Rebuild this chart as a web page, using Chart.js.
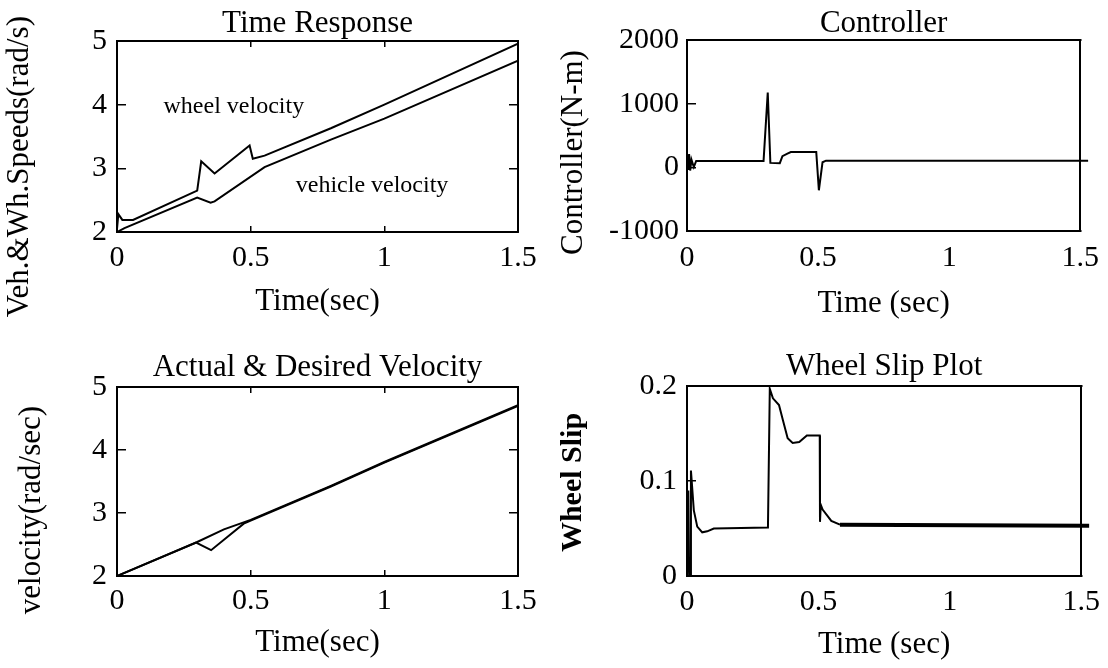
<!DOCTYPE html>
<html><head><meta charset="utf-8">
<script src="https://cdn.jsdelivr.net/npm/chart.js@4.4.1/dist/chart.umd.min.js"></script>
<style>
html,body{margin:0;padding:0;background:#fff;}
#wrap{position:relative;width:1108px;height:668px;background:#fff;}
canvas{position:absolute;}
</style></head><body>
<div id="wrap">
<canvas id="c1" width="554" height="334" style="left:0;top:0"></canvas>
<canvas id="c2" width="554" height="334" style="left:554px;top:0"></canvas>
<canvas id="c3" width="554" height="334" style="left:0;top:334px"></canvas>
<canvas id="c4" width="554" height="334" style="left:554px;top:334px"></canvas>
</div>
<script>
// ---- Time Response (wheel / vehicle speeds, rad/s) ----
const wheelT = [0, 0.005, 0.02, 0.06, 0.30, 0.315, 0.365, 0.496, 0.508, 0.552, 0.80, 1.00, 1.50];
const wheelV = [2.05, 2.28, 2.19, 2.19, 2.65, 3.11, 2.92, 3.36, 3.15, 3.20, 3.63, 4.00, 4.96];
const vehT   = [0, 0.028, 0.30, 0.35, 0.365, 0.552, 0.80, 1.00, 1.50];
const vehV   = [2.00, 2.06, 2.54, 2.46, 2.48, 3.02, 3.45, 3.78, 4.69];

// ---- Controller (N-m) ----
const ctrlT = [0, 0.004, 0.008, 0.012, 0.017, 0.026, 0.035, 0.292, 0.308, 0.318, 0.354, 0.364, 0.383, 0.396, 0.493, 0.503, 0.517, 0.53, 1.53];
const ctrlU = [200, -40, 210, -50, 120, 5, 100, 100, 1175, 70, 65, 175, 215, 240, 240, -360, 80, 105, 105];

// ---- Actual & Desired Velocity (rad/sec) ----
const desT = [0, 0.3, 0.4, 0.5, 0.8, 1.0, 1.5];
const desV = [2.00, 2.54, 2.74, 2.89, 3.43, 3.81, 4.71];
const actT = [0, 0.296, 0.352, 0.474, 0.5, 0.8, 1.0, 1.5];
const actV = [2.00, 2.53, 2.41, 2.83, 2.88, 3.42, 3.80, 4.70];

// ---- Wheel Slip ----
const slipT = [0, 0.005, 0.008, 0.012, 0.015, 0.026, 0.039, 0.058, 0.077, 0.102, 0.308, 0.315, 0.327, 0.35, 0.365, 0.383, 0.402, 0.427, 0.456, 0.505, 0.506, 0.509, 0.516, 0.549, 0.582, 1.53];
const slipS = [0, 0.09, 0, 0, 0.111, 0.069, 0.052, 0.046, 0.047, 0.050, 0.051, 0.197, 0.187, 0.180, 0.164, 0.145, 0.140, 0.141, 0.148, 0.148, 0.057, 0.075, 0.070, 0.058, 0.054, 0.053];

// ---- tick / axis settings ----
const timeTicks = {min: 0, max: 1.5, step: 0.5};
const velTicks = {min: 2, max: 5, step: 1};
const ctrlTicks = {min: -1000, max: 2000, step: 1000};
const slipTicks = {min: 0, max: 0.2, step: 0.1};

const SERIF = "'Liberation Serif', 'Times New Roman', Times, serif";
const pts = (xs, ys) => xs.map((x, i) => ({x: x, y: ys[i]}));

const sideTitle = {
  id: 'sideTitle',
  afterDraw(chart, args, opts) {
    if (!opts || !opts.text) return;
    const ctx = chart.ctx;
    ctx.save();
    ctx.translate(opts.x, opts.y);
    ctx.rotate(-Math.PI / 2);
    ctx.font = opts.font;
    ctx.fillStyle = '#000';
    ctx.textAlign = 'center';
    ctx.textBaseline = 'middle';
    ctx.fillText(opts.text, 0, 0);
    ctx.restore();
  }
};
const notes = {
  id: 'notes',
  afterDatasetsDraw(chart, args, opts) {
    if (!opts || !opts.items) return;
    const ctx = chart.ctx;
    ctx.save();
    ctx.font = opts.font;
    ctx.fillStyle = '#000';
    ctx.textAlign = 'center';
    ctx.textBaseline = 'middle';
    opts.items.forEach(it => {
      ctx.fillText(it.text, chart.scales.x.getPixelForValue(it.x), chart.scales.y.getPixelForValue(it.y));
    });
    ctx.restore();
  }
};

function axes(o) {
  const tickFont = {family: SERIF, size: 30};
  const titleFont = {family: SERIF, size: 31};
  const frame = {display: true, color: '#000', width: 2};
  const gr = len => ({drawOnChartArea: false, drawTicks: len !== 0, tickLength: -len, color: '#000', lineWidth: 1.5});
  return {
    x: {type: 'linear', position: 'bottom', min: timeTicks.min, max: timeTicks.max,
        ticks: {stepSize: timeTicks.step, font: tickFont, color: '#000', padding: o.xPad, maxRotation: 0, autoSkip: false, callback: v => String(v)},
        grid: gr(o.xTick), border: frame,
        title: {display: true, text: o.xTitle, font: titleFont, color: '#000', padding: {top: 0, bottom: o.xTitlePb}},
        afterFit(s) { s.height = o.xH; }},
    top: {type: 'linear', position: 'top', min: timeTicks.min, max: timeTicks.max,
        ticks: {stepSize: timeTicks.step, display: false},
        grid: gr(o.xTick), border: frame,
        title: {display: true, text: o.title, font: titleFont, color: '#000', padding: {top: o.titlePt, bottom: 0}},
        afterFit(s) { s.height = o.topH; }},
    y: {type: 'linear', position: 'left', min: o.yr.min, max: o.yr.max,
        ticks: {stepSize: o.yr.step, font: tickFont, color: '#000', padding: o.yPad, callback: v => String(v)},
        grid: gr(o.yTick), border: frame,
        afterFit(s) { s.width = o.yW; }},
    right: {type: 'linear', position: 'right', min: o.yr.min, max: o.yr.max,
        ticks: {stepSize: o.yr.step, display: false},
        grid: gr(o.yTickR), border: frame,
        afterFit(s) { s.width = 0; }}
  };
}

const lineStyle = {borderColor: '#000', borderWidth: 2, pointRadius: 0, fill: false, tension: 0};

function make(id, datasets, o, side, noteOpts) {
  new Chart(document.getElementById(id), {
    type: 'line',
    data: {datasets: datasets},
    options: {
      responsive: false, animation: false, events: [],
      layout: {padding: {left: 0, right: o.R, top: 0, bottom: 0}},
      scales: axes(o),
      plugins: {legend: {display: false}, tooltip: {enabled: false}, sideTitle: side, notes: noteOpts || {}}
    },
    plugins: [sideTitle, notes]
  });
}

make('c1', [
  Object.assign({data: pts(wheelT, wheelV)}, lineStyle),
  Object.assign({data: pts(vehT, vehV)}, lineStyle)
], {R: 36, xH: 102, topH: 41, yW: 117, xPad: 14, xTick: 6, xTitlePb: 14, titlePt: 5, yPad: 19, yTick: 9, yTickR: 9,
    xTitle: 'Time(sec)', title: 'Time Response', yr: velTicks},
  {text: 'Veh.&Wh.Speeds(rad/s)', x: 19.4, y: 166.7, font: "31px " + SERIF},
  {font: "24px " + SERIF, items: [{text: 'wheel velocity', x: 0.437, y: 3.97}, {text: 'vehicle velocity', x: 0.954, y: 2.73}]});

make('c2', [
  Object.assign({data: pts(ctrlT, ctrlU), clip: {left: 2, top: 0, right: 10, bottom: 0}}, lineStyle)
], {R: 21, xH: 103, topH: 40, yW: 133, xPad: 9, xTick: 0, xTitlePb: 12, titlePt: 5, yPad: 17, yTick: 9, yTickR: 0,
    xTitle: 'Time (sec)', title: 'Controller', yr: ctrlTicks},
  {text: 'Controller(N-m)', x: 19.4, y: 152.5, font: "31px " + SERIF});

make('c3', [
  Object.assign({data: pts(desT, desV)}, lineStyle),
  Object.assign({data: pts(actT, actV)}, lineStyle)
], {R: 36, xH: 92, topH: 53, yW: 117, xPad: 13, xTick: 6, xTitlePb: 7, titlePt: 15, yPad: 19, yTick: 9, yTickR: 9,
    xTitle: 'Time(sec)', title: 'Actual & Desired Velocity', yr: velTicks},
  {text: 'velocity(rad/sec)', x: 31.8, y: 176, font: "31px " + SERIF});

make('c4', [
  Object.assign({data: pts(slipT, slipS), clip: {left: 2, top: 0, right: 10, bottom: 2},
    segment: {borderWidth: ctx => (ctx.p0.parsed.x >= 0.58 ? 4 : 2)}}, lineStyle)
], {R: 21, xH: 92, topH: 52, yW: 133, xPad: 8, xTick: 0, xTitlePb: 5, titlePt: 14, yPad: 19, yTick: 9, yTickR: 0,
    xTitle: 'Time (sec)', title: 'Wheel Slip Plot', yr: slipTicks},
  {text: 'Wheel Slip', x: 19, y: 148.5, font: "bold 30px " + SERIF});
</script>
</body></html>
